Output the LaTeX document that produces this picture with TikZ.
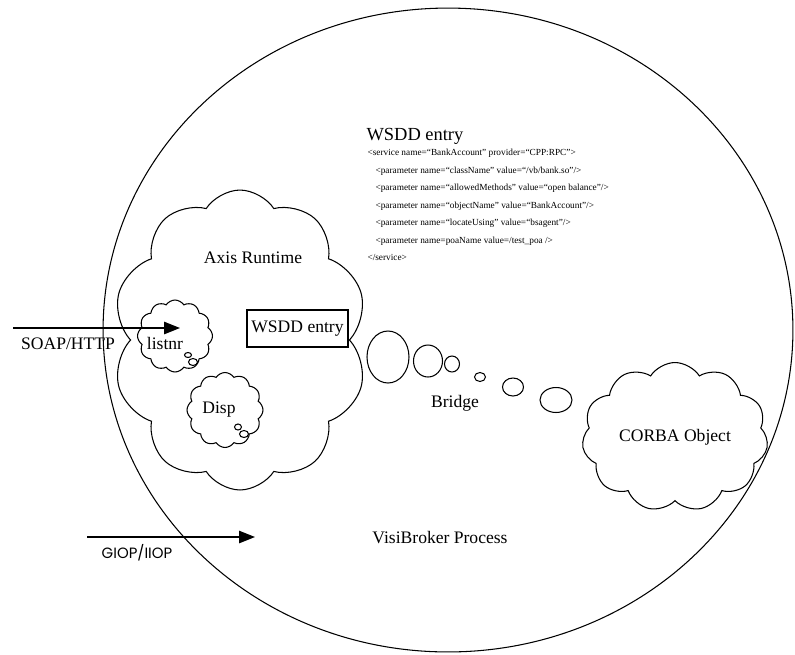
\documentclass[tikz,border=0pt]{standalone}
\usepackage{fontspec}
\setmainfont{Liberation Serif}
\newfontfamily\giopfont{Poppins}
\usetikzlibrary{shapes.symbols,shapes.geometric,arrows.meta}

\tikzset{
  puff/.style={cloud, draw, cloud puffs=#1, cloud puff arc=115, inner sep=0pt, cloud ignores aspect},
  bubble/.style={ellipse, draw, inner sep=0pt},
  flow/.style={-{Triangle[length=9pt,width=7pt]}, line width=0.8pt},
  lbl/.style={font=\fontsize{10}{12}\selectfont},
  xml/.style={font=\fontsize{5.3}{9.96}\selectfont, align=left, inner sep=0pt},
}

\begin{document}
\begin{tikzpicture}[x=0.02cm, y=-0.02cm, line width=0.6pt]
\useasboundingbox (0,0) rectangle (795,654);
% VisiBroker process boundary
\node[bubble, minimum width=13.8cm, minimum height=12.88cm] (vbp) at (448,330) {};
\node[lbl] (vbplbl) at (440,538) {VisiBroker Process};

% Axis runtime and its inner clouds
\node[puff=10, minimum width=5.1cm, minimum height=6cm] (axis) at (240,340) {};
\node[lbl] (axislbl) at (253,258) {Axis Runtime};
\node[puff=12, minimum width=1.5cm, minimum height=1.44cm] (listnr) at (175,336) {};
\node[lbl] (listnrlbl) at (165,343) {listnr};
\node[bubble, minimum width=0.14cm, minimum height=0.1cm] (lt1) at (188,355) {};
\node[bubble, minimum width=0.18cm, minimum height=0.14cm] (lt2) at (193,362) {};
\node[puff=12, minimum width=1.52cm, minimum height=1.5cm] (disp) at (225,410) {};
\node[lbl] (displbl) at (219,410) {Disp};
\node[bubble, minimum width=0.14cm, minimum height=0.12cm] (dt1) at (238,427) {};
\node[bubble, minimum width=0.18cm, minimum height=0.14cm] (dt2) at (244,434) {};
\node[draw, fill=white, lbl, minimum width=2.02cm, minimum height=0.74cm, inner sep=0pt] (wsdd) at (297.5,328.5) {WSDD entry};

% bridge bubbles
\foreach \n/\cx/\cy/\w/\h in {1/388/357/0.84/1.04, 2/428/361/0.58/0.64, 3/452/364/0.30/0.32,
    4/480/377/0.22/0.18, 5/513/387/0.42/0.36, 6/556/400/0.64/0.50}
  \node[bubble, minimum width=\w cm, minimum height=\h cm] (b\n) at (\cx,\cy) {};
\node[lbl] (bridgelbl) at (455,403) {Bridge};

% CORBA side
\node[puff=11, lbl, minimum width=3.72cm, minimum height=2.98cm] (corba) at (675,437) {CORBA Object};

% WSDD entry listing
\node[anchor=base west, font=\fontsize{10.5}{12}\selectfont, inner sep=0pt] (wsddhead) at (366,140) {WSDD entry};
\node[xml, anchor=north west] (wsddxml) at (367,149) {%
  <service name=“BankAccount” provider=“CPP:RPC”>\\
  \hspace*{0.16cm}<parameter name=“className” value=“/vb/bank.so”/>\\
  \hspace*{0.16cm}<parameter name=“allowedMethods” value=“open balance”/>\\
  \hspace*{0.16cm}<parameter name=“objectName” value=“BankAccount”/>\\
  \hspace*{0.16cm}<parameter name=“locateUsing” value=“bsagent”/>\\
  \hspace*{0.16cm}<parameter name=poaName value=/test\_poa />\\
  </service>};

% incoming protocols
\coordinate (soapin) at (13,328);
\coordinate (soapout) at (180,328);
\draw[flow] (soapin) -- (soapout);
\node[lbl] (soaplbl) at (68,344) {SOAP/HTTP};
\coordinate (giopin) at (87,537);
\coordinate (giopout) at (255,537);
\draw[flow] (giopin) -- (giopout);
\node[font=\giopfont\fontsize{8.5}{10}\selectfont] (gioplbl) at (137,553) {GIOP/IIOP};
\end{tikzpicture}
\end{document}
